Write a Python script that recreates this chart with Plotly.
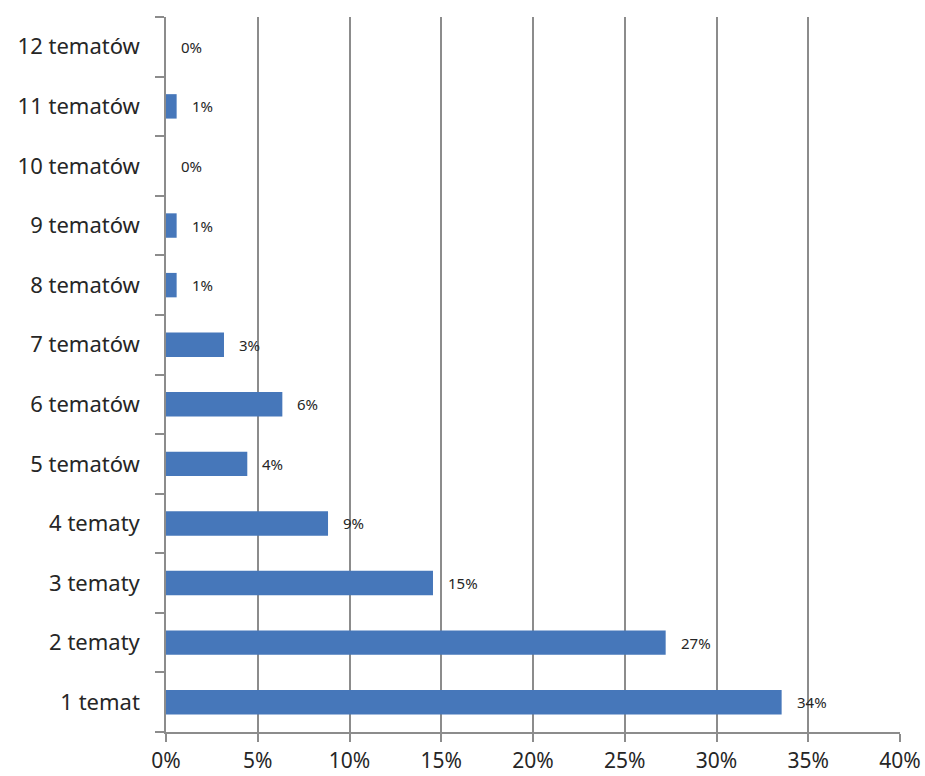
import plotly.graph_objects as go

categories = ["1 temat", "2 tematy", "3 tematy", "4 tematy", "5 tematów", "6 tematów",
              "7 tematów", "8 tematów", "9 tematów", "10 tematów", "11 tematów", "12 tematów"]
shares = [0.3355, 0.2723, 0.1455, 0.0883, 0.0443, 0.0634, 0.0316, 0.0058, 0.0058, 0.0, 0.0058, 0.0]
x_ticks = [0, 0.05, 0.10, 0.15, 0.20, 0.25, 0.30, 0.35, 0.40]

FONT = "'Noto Sans', 'Open Sans', sans-serif"
GRID = "#8c8c8c"
TEXT = "#262626"

fig = go.Figure()
fig.add_trace(go.Bar(
    y=categories,
    x=shares,
    orientation="h",
    marker=dict(color="#4677BA", line=dict(width=0)),
    width=0.41,
    hoverinfo="skip",
))

# value labels placed just right of each bar end
for cat, v in zip(categories, shares):
    fig.add_annotation(
        x=v, y=cat, xref="x", yref="y",
        text=f"{round(v * 100):.0f}%",
        showarrow=False, xanchor="left", xshift=13,
        font=dict(family=FONT, size=15, color=TEXT),
    )

fig.update_layout(
    width=925, height=776,
    margin=dict(l=166, r=25, t=17, b=44),
    paper_bgcolor="white", plot_bgcolor="white",
    showlegend=False,
    font=dict(family=FONT, color=TEXT),
)
fig.update_xaxes(
    range=[0, 0.40],
    tickvals=x_ticks,
    ticktext=[f"{round(t * 100)}%" for t in x_ticks],
    showgrid=True, gridcolor=GRID, gridwidth=1.5,
    showline=True, linecolor=GRID, linewidth=1.5,
    ticks="outside", ticklen=8, tickcolor=GRID, tickwidth=1.5,
    ticklabelstandoff=1,
    tickfont=dict(size=21, family=FONT, color=TEXT),
    zeroline=False,
    automargin=False,
)
fig.update_yaxes(
    type="category",
    categoryorder="array", categoryarray=categories,
    showline=True, linecolor=GRID, linewidth=1.5,
    ticks="outside", ticklen=9, tickcolor=GRID, tickwidth=1.5,
    tickson="boundaries",
    showgrid=False,
    ticklabelstandoff=20,
    tickfont=dict(size=22, family=FONT, color=TEXT),
    automargin=False,
)

fig.write_html("out.html")
